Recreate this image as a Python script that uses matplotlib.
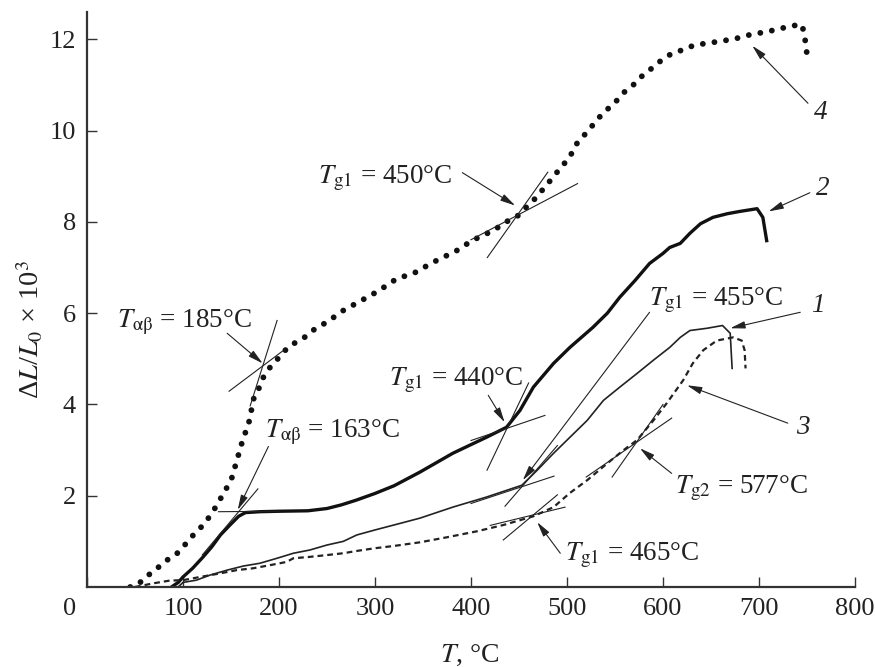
import numpy as np
import matplotlib
matplotlib.use("Agg")
import matplotlib.pyplot as plt
from matplotlib.transforms import ScaledTranslation

plt.rcParams['font.family'] = ['Liberation Serif', 'DejaVu Serif']
plt.rcParams['mathtext.fontset'] = 'stix'

# curve 1 (thin solid)
t1 = [95, 100, 114, 128, 146, 163, 180, 198, 215, 232, 250, 267, 281, 300, 320, 347, 381, 416,
      453, 469, 486, 503, 521, 538, 555, 573, 590, 607, 618, 628, 646, 662, 670, 672]
y1 = [0.0, 0.1, 0.15, 0.26, 0.37, 0.46, 0.52, 0.63, 0.74, 0.81, 0.92, 1.0, 1.14, 1.25, 1.36, 1.51,
      1.75, 1.97, 2.23, 2.56, 2.93, 3.28, 3.65, 4.09, 4.38, 4.68, 4.97, 5.25, 5.47, 5.62, 5.67,
      5.73, 5.56, 4.79]

# curve 2 (thick solid)
t2 = [88, 95, 100, 110, 121, 130, 139, 149, 158, 165, 180, 200, 230, 250, 265, 280, 300, 320, 347,
      381, 416, 437, 451, 465, 486, 503, 527, 542, 555, 571, 586, 600, 607, 618, 628, 639, 652,
      667, 680, 698, 704, 708]
y2 = [0.0, 0.1, 0.22, 0.41, 0.66, 0.88, 1.14, 1.36, 1.55, 1.63, 1.65, 1.66, 1.67, 1.72, 1.8, 1.9,
      2.05, 2.22, 2.52, 2.93, 3.28, 3.5, 3.87, 4.38, 4.9, 5.25, 5.69, 6.0, 6.35, 6.72, 7.09, 7.31,
      7.44, 7.53, 7.75, 7.96, 8.1, 8.18, 8.23, 8.29, 8.1, 7.59]

# curve 3 (dashed)
t3 = [50, 69, 86, 100, 118, 139, 156, 173, 191, 208, 215, 232, 250, 267, 281, 300, 320, 347, 375,
      406, 434, 465, 486, 503, 521, 542, 559, 573, 590, 604, 621, 631, 642, 656, 673, 682, 685, 686]
y3 = [0.0, 0.08, 0.14, 0.15, 0.22, 0.3, 0.37, 0.41, 0.48, 0.55, 0.63, 0.66, 0.7, 0.74, 0.79, 0.85,
      0.9, 0.98, 1.09, 1.22, 1.36, 1.55, 1.75, 2.06, 2.34, 2.71, 3.0, 3.22, 3.65, 4.03, 4.53, 4.9,
      5.19, 5.4, 5.47, 5.4, 5.19, 4.79]

# curve 4 (dotted)
t4 = [45, 53, 60, 71, 78, 86, 94, 101, 109, 115, 123, 134, 146, 151, 157, 163, 168, 174, 179, 183,
      189, 195, 202, 209, 219, 228, 235, 251, 267, 286, 303, 323, 340, 360, 385, 401, 423, 439,
      448, 456, 465, 472, 480, 487, 495, 502, 510, 520, 530, 538, 548, 560, 569, 576, 584, 594,
      602, 611, 621, 631, 641, 651, 662, 673, 683, 694, 704, 715, 725, 735, 745, 747, 749, 750]
y4 = [0.0, 0.05, 0.2, 0.37, 0.5, 0.63, 0.74, 0.9, 1.1, 1.23, 1.4, 1.75, 2.19, 2.4, 2.84, 3.28, 3.54,
      4.16, 4.35, 4.57, 4.77, 4.92, 5.07, 5.25, 5.38, 5.49, 5.62, 5.82, 6.06, 6.28, 6.48, 6.76,
      6.87, 7.11, 7.37, 7.59, 7.81, 8.03, 8.12, 8.29, 8.47, 8.64, 8.84, 9.02, 9.23, 9.39, 9.71,
      9.95, 10.2, 10.4, 10.57, 10.85, 11.0, 11.16, 11.29, 11.47, 11.6, 11.71, 11.77, 11.86, 11.9,
      11.93, 11.97, 12.0, 12.06, 12.12, 12.15, 12.2, 12.25, 12.3, 12.32, 12.1, 11.88, 11.64]

# tangent lines: (T start, y start, T end, y end)
tangents = [
    (170, 3.97, 198, 5.84), (148, 4.29, 205, 5.19),      # 185 C
    (137, 1.65, 200, 1.66), (120, 0.70, 178, 2.15),      # 163 C
    (417, 7.22, 480, 9.09), (400, 7.61, 511, 8.84),      # 450 C
    (400, 3.21, 477, 3.76), (416.7, 2.56, 460, 4.47),    # 440 C
    (400, 1.83, 486.5, 2.43), (435.4, 1.77, 490, 3.10),  # 455 C
    (420, 1.35, 498, 1.75), (433.6, 1.03, 490, 2.02),    # 465 C
    (520, 2.41, 609, 3.70), (547, 2.41, 600, 4.00),      # 577 C
]

# temperature labels: text, text position, arrow tail, arrow head
labels = [
    (r'$T_{\mathrm{αβ}}$ = 185°C', (102, 5.8), (146, 5.56), (183, 4.9)),
    (r'$T_{\mathrm{αβ}}$ = 163°C', (256, 3.39), (189, 3.08), (157, 1.69)),
    (r'$T_{\rm g1}$ = 450°C', (311, 8.95), (391, 9.08), (446, 8.36)),
    (r'$T_{\rm g1}$ = 440°C', (384, 4.53), (418, 4.2), (435, 3.61)),
    (r'$T_{\rm g1}$ = 455°C', (655, 6.28), (586, 6.02), (454, 2.34)),
    (r'$T_{\rm g1}$ = 465°C', (568, 0.7), (493, 0.74), (469, 1.42)),
    (r'$T_{\rm g2}$ = 577°C', (682, 2.17), (609, 2.49), (576, 3.04)),
]

# curve numbers
numbers = [
    ('1', (761, 6.17), (743, 6.02), (670, 5.67)),
    ('2', (766, 8.73), (753, 8.64), (710, 8.23)),
    ('3', (746, 3.5), (730, 3.59), (625, 4.42)),
    ('4', (764, 10.39), (751, 10.6), (693, 11.86)),
]

fig = plt.figure(figsize=(8.75, 6.67), dpi=100)
ax = fig.add_axes([87 / 875, 1 - 587 / 667, (855 - 87) / 875, (587 - 12) / 667])

ax.plot(t1, y1, color='#222222', lw=1.2)
ax.plot(t2, y2, color='#111111', lw=2.4)
ax.plot(t3, y3, color='#222222', lw=1.6, linestyle=(0, (2.6, 1.8)))
ax.plot(t4, y4, color='#111111', lw=4.2, linestyle=(0, (0.01, 2.0)), dash_capstyle='round')

for x0, y0, x1, y1_ in tangents:
    ax.plot([x0, x1], [y0, y1_], color='#222222', lw=0.8)

arrow = dict(arrowstyle='-|>,head_length=0.9,head_width=0.22',
             lw=0.8, color='#222222', shrinkA=0, shrinkB=0)
for txt, tpos, tail, head in labels:
    ax.text(tpos[0], tpos[1], txt, fontsize=19.5, ha='center', va='center', color='#222222')
    ax.annotate('', xy=head, xytext=tail, arrowprops=arrow)
for txt, tpos, tail, head in numbers:
    ax.text(tpos[0], tpos[1], txt, fontsize=19.5, style='italic', ha='center', va='center',
            color='#222222')
    ax.annotate('', xy=head, xytext=tail, arrowprops=arrow)

ax.set_xlim(0, 800)
ax.set_ylim(0, 12.6)
ax.set_xticks(range(0, 801, 100))
ax.set_yticks([2, 4, 6, 8, 10, 12])
for s in ['top', 'right']:
    ax.spines[s].set_visible(False)
for s in ['left', 'bottom']:
    ax.spines[s].set_linewidth(1.6)
    ax.spines[s].set_color('#333333')
ax.tick_params(direction='in', length=7, width=1, colors='#333333', labelcolor='#222222',
               labelsize=19)
ax.tick_params(axis='x', pad=8)
ax.tick_params(axis='y', pad=8)
lab0 = ax.get_xticklabels()[0]
lab0.set_transform(lab0.get_transform() + ScaledTranslation(-0.17, 0, fig.dpi_scale_trans))

fig.text(470 / 875, 1 - 655 / 667, r'$T$, °C', fontsize=20, ha='center', va='center',
         color='#222222')
fig.text(30 / 875, 1 - 330 / 667, r'Δ$L$/$L_0$ × 10$^3$', fontsize=20.5, rotation=90,
         ha='center', va='center', color='#222222')

fig.savefig('out.png', dpi=100)
